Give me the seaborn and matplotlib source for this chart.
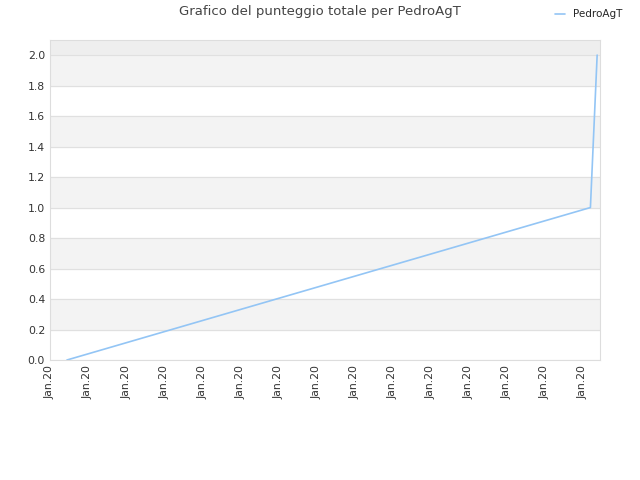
import pandas as pd
import numpy as np
import seaborn as sns
import matplotlib
matplotlib.use("Agg")
import matplotlib.pyplot as plt
import matplotlib.dates as mdates

# data
dates = ["2020-01-01 21:30", "2020-01-29 10:00", "2020-01-29 18:30"]
scores = [0.0, 1.0, 2.0]
player = "PedroAgT"

df = pd.DataFrame({"data": pd.to_datetime(dates), "punteggio": scores})
tick_dates = pd.date_range("2020-01-01", periods=15, freq="2D")

sns.set_style("white")
plt.rcParams["font.family"] = ["DejaVu Sans"]

fig = plt.figure(figsize=(6.4, 4.8), dpi=100)
ax = fig.add_axes([0.078, 0.25, 0.86, 0.667])

# alternating bands
for lo in np.arange(0.2, 2.0, 0.4):
    ax.axhspan(lo, lo + 0.2, color="#f3f3f3", zorder=0)
ax.axhspan(2.0, 2.1, color="#eeeeee", zorder=0)

sns.lineplot(data=df, x="data", y="punteggio", color="#93c5f5", linewidth=1.2,
             label=player, ax=ax)

ax.set_ylim(0, 2.1)
ax.set_yticks(np.arange(0, 2.01, 0.2))
ax.yaxis.grid(True, color="#e0e0e0", linewidth=0.8)
ax.set_axisbelow(True)
ax.set_xticks(tick_dates)
ax.xaxis.set_major_formatter(mdates.DateFormatter("%b.%y"))
ax.set_xlim(pd.Timestamp("2020-01-01"), pd.Timestamp("2020-01-29 22:30"))
plt.setp(ax.get_xticklabels(), rotation=90)
ax.tick_params(axis="both", labelsize=7.8, colors="#333333", length=0)
ax.set_xlabel("")
ax.set_ylabel("")
for s in ax.spines.values():
    s.set_color("#dddddd")

ax.legend(loc="upper right", bbox_to_anchor=(1.058, 1.125), frameon=False,
          fontsize=7.5, handlelength=1.0)
fig.suptitle("Grafico del punteggio totale per PedroAgT", x=0.5, y=0.99,
             fontsize=9.5, color="#444444")

fig.savefig("out.png", dpi=100)
